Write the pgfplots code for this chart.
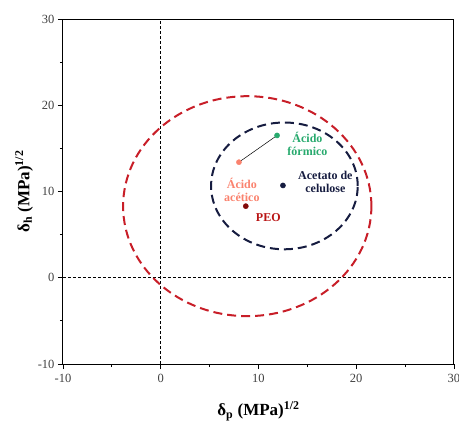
\documentclass[border=0pt]{standalone}
\usepackage{fontspec}
\setmainfont{Liberation Serif}
\usepackage{pgfplots}
\pgfplotsset{compat=1.18}
\definecolor{redc}{RGB}{200,30,40}
\definecolor{navyc}{RGB}{22,28,64}
\definecolor{greenc}{RGB}{40,170,110}
\definecolor{salmonc}{RGB}{250,130,110}
\definecolor{peoc}{RGB}{130,10,10}
\definecolor{peolab}{RGB}{185,20,20}
\begin{document}
\begin{tikzpicture}
\useasboundingbox (0,0) rectangle (459pt,424pt);
\begin{axis}[
  at={(63pt,60pt)}, anchor=south west,
  width=391pt, height=345pt, scale only axis,
  xmin=-10, xmax=30, ymin=-10, ymax=30,
  xtick={-10,0,10,20,30}, ytick={-10,0,10,20,30},
  xticklabels={-10,0,10,20,30}, yticklabels={-10,0,10,20,30},
  minor tick num=1,
  tick align=outside, tick pos=left,
  major tick length=5pt, minor tick length=3pt,
  axis line style={line width=1pt},
  every tick/.style={black, line width=0.8pt},
  ticklabel style={font=\fontsize{12.5}{14}\selectfont, text=black!75},
  xticklabel style={yshift=-2pt},
  xlabel={\textbf{δ\textsubscript{p} (MPa)\textsuperscript{1/2}}},
  ylabel={\textbf{δ\textsubscript{h} (MPa)\textsuperscript{1/2}}},
  label style={font=\fontsize{17}{19}\selectfont},
  xlabel style={yshift=-12pt},
  ylabel style={yshift=-2pt},
  clip=false,
]
\draw[densely dashed, line width=0.7pt] (axis cs:0,-10) -- (axis cs:0,30);
\draw[densely dashed, line width=0.7pt] (axis cs:-10,0) -- (axis cs:30,0);
\draw[redc, line width=2pt, dash pattern=on 9pt off 5pt] (axis cs:8.85,8.3) ellipse [x radius=12.7, y radius=12.75];
\draw[navyc, line width=2pt, dash pattern=on 9pt off 5pt] (axis cs:12.65,10.65) ellipse [x radius=7.5, y radius=7.35];
\addplot[black, line width=0.5pt] coordinates {(8.0,13.4) (11.9,16.5)};
\addplot[only marks, mark=*, mark size=2.6pt, greenc] coordinates {(11.9,16.5)};
\addplot[only marks, mark=*, mark size=2.6pt, salmonc] coordinates {(8.0,13.4)};
\addplot[only marks, mark=*, mark size=2.6pt, navyc] coordinates {(12.5,10.7)};
\addplot[only marks, mark=*, mark size=2.6pt, peoc] coordinates {(8.7,8.3)};
\node[greenc, font=\bfseries\fontsize{12}{13}\selectfont, align=center, anchor=west] at (axis cs:12.6,15.5) {Ácido\\fórmico};
\node[salmonc, font=\bfseries\fontsize{12}{13}\selectfont, align=center] at (axis cs:8.3,10.2) {Ácido\\acético};
\node[navyc, font=\bfseries\fontsize{12}{13}\selectfont, align=center, anchor=west] at (axis cs:13.7,11.1) {Acetato de\\celulose};
\node[peolab, font=\bfseries\fontsize{12}{13}\selectfont] at (axis cs:11.0,7.0) {PEO};
\end{axis}
\end{tikzpicture}
\end{document}
